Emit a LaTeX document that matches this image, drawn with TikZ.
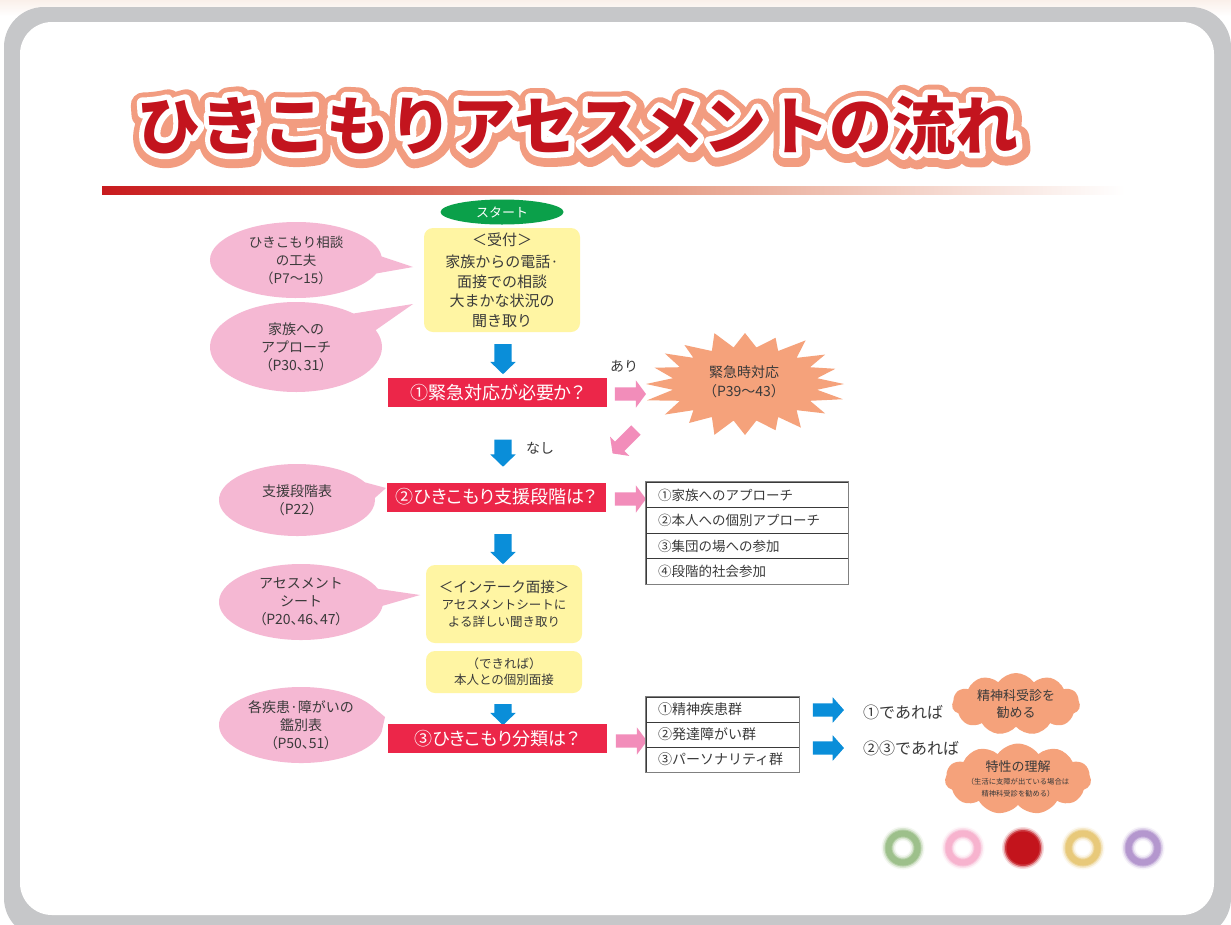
\documentclass[tikz,border=0pt]{standalone}
\usepackage{fontspec}
\setmainfont{Noto Sans CJK JP}
\newfontfamily\propfont{Noto Sans CJK JP}[RawFeature=+palt]
\newfontfamily\titlefont{Noto Sans CJK JP}
\newfontfamily\titlefontwide{Noto Sans CJK JP}[FakeBold=40]
\newfontfamily\titlefontmid{Noto Sans CJK JP}[FakeBold=18]
\usetikzlibrary{shapes.callouts,shapes.symbols,shapes.arrows,shapes.geometric,calc}

\definecolor{ink}{HTML}{3A3A3A}
\definecolor{framegray}{HTML}{C6C7C9}
\definecolor{barred}{HTML}{EC2649}
\definecolor{bubblepink}{HTML}{F5B8D3}
\definecolor{boxyellow}{HTML}{FFF5A3}
\definecolor{startgreen}{HTML}{0BA04A}
\definecolor{arrowblue}{HTML}{0A8ED9}
\definecolor{arrowpink}{HTML}{F28DBA}
\definecolor{salmon}{HTML}{F5A27B}
\definecolor{titlered}{HTML}{C3141E}
\definecolor{titleedge}{HTML}{F29C80}
\definecolor{rulered}{HTML}{C81B1E}
\definecolor{rulemid}{HTML}{E3937A}
\definecolor{dotgreen}{HTML}{9DC08B}
\definecolor{dotpink}{HTML}{F7B3CE}
\definecolor{dotred}{HTML}{C3141C}
\definecolor{dotyellow}{HTML}{E8C97A}
\definecolor{dotpurple}{HTML}{B497CE}
\definecolor{cream}{HTML}{FAF0EA}

\newcommand\fsz[2]{\fontsize{#1}{#2}\selectfont}
\newcommand\pages[1]{{\propfont #1}}

\tikzset{
  txt/.style={text=ink, inner sep=0pt, font=\fsz{14}{19}},
  bubble/.style={ellipse callout, fill=bubblepink, inner sep=0pt, align=center,
    text=ink, font=\fsz{14}{18}, callout pointer arc=26},
  ybox/.style={fill=boxyellow, rounded corners=9pt, align=center, text=ink,
    inner sep=0pt, minimum width=156pt},
  qbar/.style={fill=barred, text=white, minimum width=219pt, minimum height=29pt,
    inner sep=0pt, font=\propfont\fsz{18}{22}},
  row/.style={draw=ink, line width=0.8pt, minimum height=25.5pt, inner xsep=12pt,
    inner ysep=0pt, text width=178pt, align=left, font=\fsz{13.5}{17}, text=ink},
  rowb/.style={row, minimum height=25pt, text width=129pt, font=\fsz{14}{17}},
  downblue/.style={single arrow, fill=arrowblue, rotate=-90, text height=0pt,
    text depth=0pt, inner xsep=0pt, inner ysep=8.5pt, single arrow head extend=4pt,
    single arrow tip angle=92, minimum height=#1},
  rightblue/.style={single arrow, fill=arrowblue, text height=0pt, text depth=0pt,
    inner xsep=0pt, inner ysep=6.5pt, single arrow head extend=6pt,
    single arrow tip angle=97, minimum height=31pt},
  pinkarrow/.style={single arrow, fill=arrowpink, text height=0pt, text depth=0pt,
    inner xsep=0pt, inner ysep=6.5pt, single arrow head extend=7pt,
    single arrow tip angle=107, minimum height=31pt},
  puff/.style={cloud, cloud puffs=11, cloud puff arc=110, cloud ignores aspect,
    fill=salmon, inner sep=0pt, align=center, text=ink},
  titletxt/.style={inner sep=0pt}
}

\begin{document}
\begin{tikzpicture}[x=1pt,y=-1pt]
\useasboundingbox (0,0) rectangle (1231,924);
\clip (0,0) rectangle (1231,924);

% page background and frame
\fill[white] (0,0) rectangle (1231,924);
\shade[top color=cream, bottom color=white] (0,0) rectangle (1231,16);
\fill[framegray, rounded corners=40pt] (4,7) rectangle (1231,938);
\fill[white, rounded corners=32pt] (20,22) rectangle (1214,915);

% heading: stroked copies give the salmon and white outlines
\begin{scope}[line join=round]
\node[titletxt, text=titleedge, font=\titlefontwide\bfseries\fsz{63}{63}] (titleedge)
  at (579,127) {ひきこもりアセスメントの流れ};
\node[titletxt, text=white, font=\titlefontmid\bfseries\fsz{63}{63}] (titlewhite)
  at (578,125) {ひきこもりアセスメントの流れ};
\end{scope}
\node[titletxt, text=titlered, font=\titlefont\bfseries\fsz{63}{63}] (title)
  at (578,125) {ひきこもりアセスメントの流れ};

% rule under the heading
\shade[left color=rulered, right color=white, middle color=rulemid] (102,186) rectangle (1125,194);

% main column
\node[ellipse, fill=startgreen, text=white, minimum width=123pt, minimum height=25pt,
  inner sep=0pt, font=\fsz{13}{15}] (start) at (502,212) {スタート};
\node[ybox, minimum height=104pt, font=\fsz{15}{19.5}] (yb1) at (502,280)
  {＜受付＞\\[3pt]家族からの電話·\\面接での相談\\大まかな状況の\\聞き取り};
\node[downblue=30pt] (a1) at (503,355) {};
\node[qbar] (bar1) at (497.5,392.5) {①緊急対応が必要か？};
\node[downblue=27pt] (a2) at (503,449) {};
\node[qbar] (bar2) at (496.5,497) {②ひきこもり支援段階は？};
\node[downblue=30pt] (a3) at (503,545) {};
\node[ybox, minimum height=78pt, font=\fsz{12.5}{17}] (yb2) at (504,604)
  {{\fsz{14.5}{20}＜インテーク面接＞}\\アセスメントシートに\\よる詳しい聞き取り};
\node[ybox, minimum height=42pt, font=\fsz{12.5}{16}] (yb3) at (504,672)
  {（できれば）\\本人との個別面接};
\node[downblue=21pt] (a4) at (503,710.5) {};
\node[qbar] (bar3) at (497,738.5) {③ひきこもり分類は？};

% emergency branch
\node[txt] (yes) at (624,366) {あり};
\node[txt] (no) at (540,448) {なし};
\node[pinkarrow] (p1) at (628,394) {};
\fill[salmon] plot[samples at={0,9,...,351}, variable=\a]
  ({745+ifthenelse(mod(\a,18)==0,99+4*sin(5*\a),73)*cos(\a)},
   {384+ifthenelse(mod(\a,18)==0,51+3*cos(7*\a),37)*sin(\a)}) -- cycle;
\node[txt, align=center, font=\fsz{14}{19}] (burst) at (744,382)
  {緊急時対応\\（P39〜43）};
\node[pinkarrow, rotate=-135, minimum height=33pt] (p2) at (626,440) {};

% support stages
\node[pinkarrow] (p3) at (628,499) {};
\node[row] (s1) at (747,495) {①家族へのアプローチ};
\node[row] (s2) at (747,520.5) {②本人への個別アプローチ};
\node[row] (s3) at (747,546) {③集団の場への参加};
\node[row] (s4) at (747,571.5) {④段階的社会参加};
\draw[gray, line width=1pt] (s1.north west) rectangle (s4.south east);

% classification
\node[pinkarrow] (p4) at (629,741) {};
\node[rowb] (g1) at (722.5,709.5) {①精神疾患群};
\node[rowb] (g2) at (722.5,734.5) {②発達障がい群};
\node[rowb] (g3) at (722.5,759.5) {③パーソナリティ群};
\draw[gray, line width=1pt] (g1.north west) rectangle (g3.south east);
\node[rightblue] (r1) at (825.5,710) {};
\node[rightblue] (r2) at (825.5,748) {};
\node[txt, anchor=west, font=\fsz{16}{20}] (if1) at (863,712) {①であれば};
\node[txt, anchor=west, font=\fsz{16}{20}] (if2) at (863,748) {②③であれば};
\node[puff, minimum width=128pt, minimum height=62pt, font=\fsz{13}{16.5}] (cl1)
  at (1016,704) {精神科受診を\\勧める};
\node[puff, minimum width=133pt, minimum height=67pt] (cl2) at (1018,779)
  {{\fsz{13}{17}特性の理解}\\[1pt]{\fsz{7.3}{11}（生活に支障が出ている場合は}\\{\fsz{7.3}{9}精神科受診を勧める）}};

% reference callouts
\node[bubble, minimum width=172pt, minimum height=76pt, font=\fsz{13.5}{18},
  callout absolute pointer={(413,267)}] (c1) at (296,260)
  {ひきこもり相談\\の工夫\\（P7〜15）};
\node[bubble, minimum width=172pt, minimum height=90pt,
  callout absolute pointer={(413,304)}] (c2) at (296,347)
  {家族への\\アプローチ\\\pages{（P30、31）}};
\node[bubble, minimum width=156pt, minimum height=72pt,
  callout absolute pointer={(386,488)}] (c3) at (297,500)
  {支援段階表\\（P22）};
\node[bubble, minimum width=164pt, minimum height=76pt,
  callout absolute pointer={(420,595)}] (c4) at (301,602)
  {アセスメント\\シート\\\pages{（P20、46、47）}};
\node[bubble, minimum width=164pt, minimum height=76pt,
  callout absolute pointer={(385,717)}] (c5) at (301,725)
  {各疾患·障がいの\\鑑別表\\\pages{（P50、51）}};

% decorative dots
\foreach \x/\c in {903/dotgreen, 963/dotpink, 1083/dotyellow, 1143/dotpurple} {
  \foreach \w/\o in {14/0.12, 11/0.3, 8/0.6, 6/1} {
    \draw[\c, line width=\w pt, opacity=\o] (\x,848) circle[radius=14.5];
  }
}
\foreach \r/\o in {21/0.15, 19.5/0.35, 18/0.7, 16.5/1} {
  \fill[dotred, opacity=\o] (1023,848) circle[radius=\r];
}
\end{tikzpicture}
\end{document}
